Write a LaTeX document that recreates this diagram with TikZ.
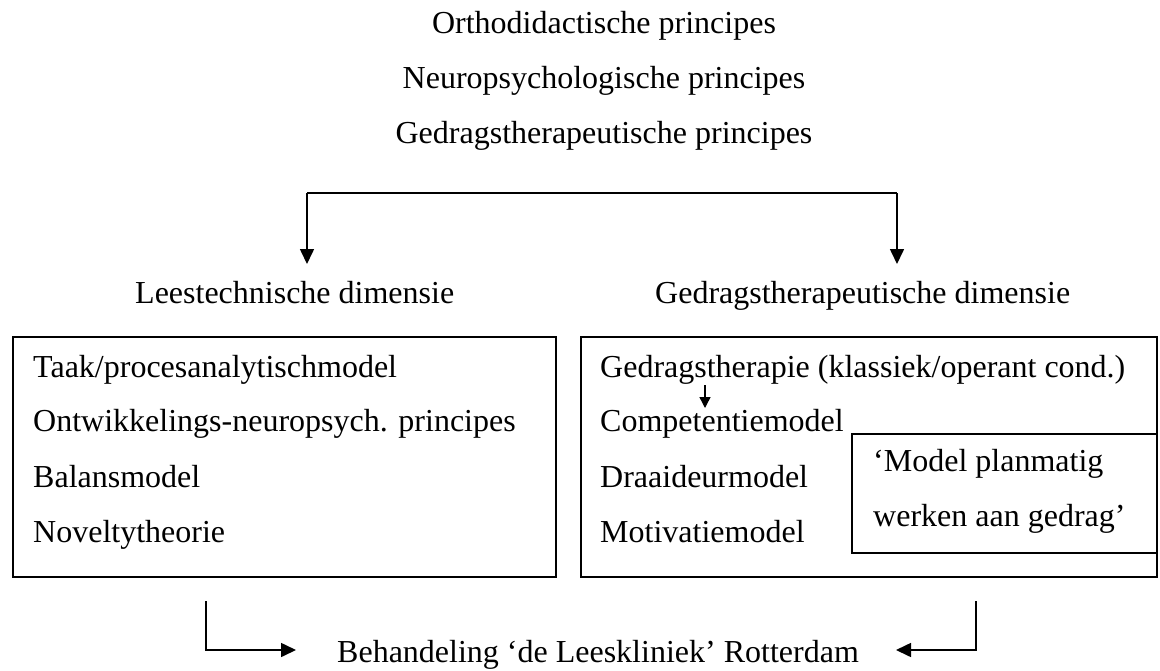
\documentclass[tikz,border=0pt]{standalone}
\usepackage{fontspec}
\setmainfont{Liberation Serif}
\usetikzlibrary{arrows.meta}
\tikzset{
  txt/.style={font=\fontsize{32}{38}\selectfont, inner sep=0pt, anchor=base west},
  ctr/.style={font=\fontsize{32}{38}\selectfont, inner sep=0pt, anchor=base},
  panel/.style={draw, line width=1.6pt, inner sep=0pt},
  conn/.style={line width=1.6pt},
  arr/.style={conn, -{Triangle[width=14pt,length=15pt]}},
  smallarr/.style={line width=1.4pt, -{Triangle[width=11pt,length=11pt]}}
}
\begin{document}
\begin{tikzpicture}[x=1pt, y=-1pt]
        \useasboundingbox (0,0) rectangle (1160,670);
        % Principles
        \node[ctr] (ortho) at (604,33) {Orthodidactische principes};
        \node[ctr] (neuro) at (604,88) {Neuropsychologische principes};
        \node[ctr] (gedrag) at (604,143) {Gedragstherapeutische principes};
        % Split into two dimensions
        \coordinate (splitL) at (307,193);
        \coordinate (splitR) at (897,193);
        \coordinate (tipL) at (307,264);
        \coordinate (tipR) at (897,264);
        \draw[conn] (splitL) -- (splitR);
        \draw[arr] (splitL) -- (tipL);
        \draw[arr] (splitR) -- (tipR);
        \node[txt] (leesdim) at (135,303) {Leestechnische dimensie};
        \node[txt] (gedragdim) at (655,303) {Gedragstherapeutische dimensie};
        % Left box
        \node[panel, minimum width=543pt, minimum height=240pt] (leesbox) at (284.5,457) {};
        \node[txt] (taak) at (33,377) {Taak/procesanalytischmodel};
        \node[txt] (ontw) at (33,431) {Ontwikkelings-neuropsych. principes};
        \node[txt] (balans) at (33,487) {Balansmodel};
        \node[txt] (novelty) at (33,542) {Noveltytheorie};
        % Right box
        \node[panel, minimum width=576pt, minimum height=240pt] (gedragbox) at (869,457) {};
        \node[txt] (therapie) at (600,377) {Gedragstherapie (klassiek/operant cond.)};
        \node[txt] (compet) at (600,431) {Competentiemodel};
        \node[txt] (draai) at (600,487) {Draaideurmodel};
        \node[txt] (motiv) at (600,542) {Motivatiemodel};
        \coordinate (compTop) at (705,385);
        \coordinate (compTip) at (705,408);
        \draw[smallarr] (compTop) -- (compTip);
        % Inner box
        \node[panel, minimum width=305pt, minimum height=119pt] (planbox) at (1004.5,493.5) {};
        \node[txt] (plan1) at (873,471) {‘Model planmatig};
        \node[txt] (plan2) at (873,526) {werken aan gedrag’};
        % Result
        \node[txt] (behandeling) at (337,662) {Behandeling ‘de Leeskliniek’ Rotterdam};
        \coordinate (inL) at (206,601);
        \coordinate (inR) at (976,601);
        \coordinate (endL) at (296,650);
        \coordinate (endR) at (896,650);
        \draw[arr] (inL) |- (endL);
        \draw[arr] (inR) |- (endR);
    \end{tikzpicture}
\end{document}
